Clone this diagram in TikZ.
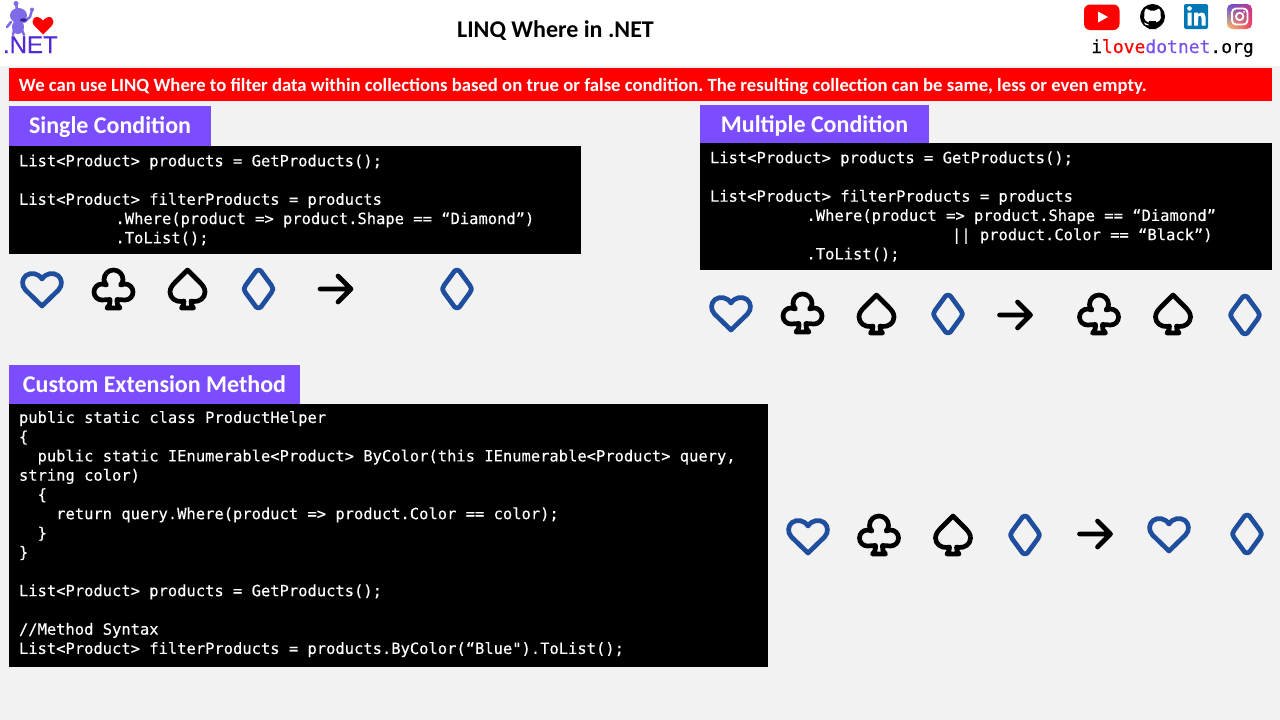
\documentclass[tikz,border=0pt]{standalone}
\usepackage{fontspec}
\usepackage{xcolor}
\usetikzlibrary{positioning,shadings}
\setmainfont{Carlito}
\newfontfamily\codefont[FakeBold=0.3]{DejaVu Sans Mono}
\newfontfamily\netfont[FakeBold=0.3]{Liberation Sans}
\definecolor{pagegray}{HTML}{F2F2F2}
\definecolor{headpurple}{HTML}{7C4DFF}
\definecolor{suitblue}{HTML}{1F4E9E}
\definecolor{netpurple}{HTML}{512BD4}
\definecolor{botpurple}{HTML}{7F6BE8}
\definecolor{sitepurple}{HTML}{7A4FF0}
\definecolor{linkblue}{HTML}{0077B5}
\definecolor{instaa}{HTML}{5B51D8}
\definecolor{instab}{HTML}{C1358F}
\definecolor{instac}{HTML}{FDC468}
\definecolor{instad}{HTML}{F0405C}
\tikzset{
  suitline/.style={line width=4.7pt,line join=round,line cap=round},
  pics/heartsuit/.style={code={
    \draw[suitline,suitblue] (0,17) -- (-16.5,1) .. controls (-21,-4) and (-20,-10) .. (-16,-13.5)
      .. controls (-11,-17) and (-4,-16) .. (0,-10) .. controls (4,-16) and (11,-17) .. (16,-13.5)
      .. controls (20,-10) and (21,-4) .. (16.5,1) -- cycle;}},
  pics/clubsuit/.style={code={
    \draw[suitline,black] (-6.5,19) -- (6.5,19) .. controls (4,17) and (3.5,15) .. (3.5,10.5) -- (11.5,11)
      .. controls (16,11) and (19.5,7.5) .. (19.5,3) .. controls (19.5,-1.5) and (16,-5) .. (11.5,-5) -- (7,-4)
      .. controls (8.5,-6) and (9.5,-7) .. (9.5,-9.5) .. controls (9.5,-15) and (5,-19) .. (0,-19)
      .. controls (-5,-19) and (-9.5,-15) .. (-9.5,-9.5) .. controls (-9.5,-7) and (-8.5,-6) .. (-7,-4) -- (-11.5,-5)
      .. controls (-16,-5) and (-19.5,-1.5) .. (-19.5,3) .. controls (-19.5,7.5) and (-16,11) .. (-11.5,11)
      -- (-3.5,10.5) .. controls (-3.5,15) and (-4,17) .. (-6.5,19) -- cycle;}},
  pics/spadesuit/.style={code={
    \draw[suitline,black] (-6,19) -- (6,19) .. controls (4,17) and (3.5,15) .. (3.5,12) -- (6,12.5)
      .. controls (12,13) and (17.5,9) .. (17.5,3) .. controls (17.5,-1) and (15,-4) .. (12,-7) -- (0,-19)
      -- (-12,-7) .. controls (-15,-4) and (-17.5,-1) .. (-17.5,3) .. controls (-17.5,9) and (-12,13) .. (-6,12.5)
      -- (-3.5,12) .. controls (-3.5,15) and (-4,17) .. (-6,19) -- cycle;}},
  pics/diamondsuit/.style={code={
    \draw[suitline,suitblue] (0,-19) .. controls (2,-19) and (3,-17.5) .. (3.5,-16.5) -- (13,-3.5)
      .. controls (15,-1) and (15,1) .. (13,3.5) -- (3.5,16.5) .. controls (3,17.5) and (2,19) .. (0,19)
      .. controls (-2,19) and (-3,17.5) .. (-3.5,16.5) -- (-13,3.5) .. controls (-15,1) and (-15,-1) .. (-13,-3.5)
      -- (-3.5,-16.5) .. controls (-3,-17.5) and (-2,-19) .. (0,-19) -- cycle;}},
  pics/thenarrow/.style={code={
    \draw[suitline,black] (-15.5,0) -- (15.5,0) (2.5,-13) -- (15.5,0) -- (2.5,13);}}
}
\begin{document}
\begin{tikzpicture}[x=1pt,y=-1pt,outer sep=0pt,
  headbox/.style={fill=headpurple,text=white,inner sep=0pt,text depth=0pt,font=\fontsize{24}{28}\selectfont\bfseries},
  codebox/.style={fill=black,text=white,inner xsep=10pt,inner ysep=0pt,align=flush left,
                  font=\codefont\fontsize{15.46}{19.25}\selectfont}]
\useasboundingbox (0,0) rectangle (1280,720);
\fill[pagegray] (0,0) rectangle (1280,720);
\fill[white] (0,0) rectangle (1280,66);

\node (title) at (555.5,29) [inner sep=0pt,text depth=0pt,font=\fontsize{24}{28}\selectfont\bfseries] {LINQ Where in .NET};
\node (banner) at (9,68) [anchor=north west,fill=red,text=white,inner xsep=10pt,inner ysep=0pt,minimum height=33pt,
  text width=1243pt,align=flush left,text depth=0pt,font=\frenchspacing\fontsize{18.7}{23}\selectfont\bfseries]
  {We can use LINQ Where to filter data within collections based on true or false condition. The resulting collection can be same, less or even empty.};

\node (single) at (9,106) [headbox,anchor=north west,minimum width=202pt,minimum height=40pt] {\raisebox{1pt}{Single Condition}};
\node (singlecode) [codebox,below=0pt of single.south west,anchor=north west,minimum height=108pt,text width=552pt]
  {List<Product> products = GetProducts();\\~\\
   List<Product> filterProducts = products\\
   \hspace*{96.5pt}.Where(product => product.Shape == “Diamond”)\\
   \hspace*{96.5pt}.ToList();};

\node (multi) at (700,105) [headbox,anchor=north west,minimum width=229pt,minimum height=38pt] {Multiple Condition};
\node (multicode) [codebox,below=0pt of multi.south west,anchor=north west,minimum height=127pt,text width=552pt]
  {List<Product> products = GetProducts();\\~\\
   List<Product> filterProducts = products\\
   \hspace*{96.5pt}.Where(product => product.Shape == “Diamond”\\
   \hspace*{242pt}|| product.Color == “Black”)\\
   \hspace*{96.5pt}.ToList();};

\node (custom) at (9,365) [headbox,anchor=north west,minimum width=291pt,minimum height=39pt] {Custom Extension Method};
\node (customcode) [codebox,below=0pt of custom.south west,anchor=north west,minimum height=263pt,text width=739pt]
  {public static class ProductHelper\\
   \{\\
   \hspace*{18.6pt}public static IEnumerable<Product> ByColor(this IEnumerable<Product> query,\\
   string color)\\
   \hspace*{18.6pt}\{\\
   \hspace*{37.2pt}return query.Where(product => product.Color == color);\\
   \hspace*{18.6pt}\}\\
   \}\\~\\
   List<Product> products = GetProducts();\\~\\
   //Method Syntax\\
   List<Product> filterProducts = products.ByColor(“Blue").ToList();\rule[-6pt]{0pt}{1pt}};

\pic at (42,289) {heartsuit};
\pic at (113.5,289) {clubsuit};
\pic at (187.5,289) {spadesuit};
\pic at (258.5,289) {diamondsuit};
\pic at (335.5,289) {thenarrow};
\pic at (457,289) {diamondsuit};

\pic at (731,313) {heartsuit};
\pic at (802.5,313) {clubsuit};
\pic at (876.5,314) {spadesuit};
\pic at (948,314) {diamondsuit};
\pic at (1015,315) {thenarrow};
\pic at (1099,314) {clubsuit};
\pic at (1173,314) {spadesuit};
\pic at (1245,315) {diamondsuit};

\pic at (808,536) {heartsuit};
\pic at (879,535) {clubsuit};
\pic at (953,535) {spadesuit};
\pic at (1025,535) {diamondsuit};
\pic at (1095,534) {thenarrow};
\pic at (1169,534) {heartsuit};
\pic at (1247,534) {diamondsuit};

\draw[botpurple,line width=2.5pt,line cap=round] (16,3) -- (17,10) (24,22) -- (30,17) -- (32,10) (11,22) -- (7,27)
  (14,30) -- (13,35) (22,30) -- (24,35);
\fill[botpurple] (18.5,15.5) ellipse (8.5pt and 7.5pt) (16,3.5) circle (2.5pt) (18,27) ellipse (6pt and 7pt) (32,9.5) circle (2pt);
\fill[netpurple!70!black] (23.5,20) ellipse (3.5pt and 1.7pt);
\fill[red] (43,34.5) -- (34.5,26) .. controls (29,20) and (36,12.5) .. (43,20.5) .. controls (50,12.5) and (57,20) .. (51.5,26) -- cycle;
\node (dotnet) at (3,53) [anchor=base west,inner sep=0pt,text=netpurple,font=\netfont\fontsize{24}{28}\selectfont] {.NET};

\fill[red,rounded corners=6pt] (1084,4.5) rectangle (1119.5,30);
\fill[white] (1098,11.5) -- (1108,17) -- (1098,22.5) -- cycle;

\fill[black] (1152.5,16.5) circle (12.5pt);
\fill[white] (1146,8.5) -- (1150,10.5) -- (1155,10.5) -- (1159,8.5) .. controls (1161,12) and (1161,13) .. (1160.5,14)
  .. controls (1162.5,20) and (1158,23) .. (1152.5,23) .. controls (1147,23) and (1142.5,20) .. (1144.5,14)
  .. controls (1144,13) and (1144,12) .. (1146,8.5) -- cycle;
\fill[black] (1149,21) -- (1156,21) -- (1156.5,29) -- (1148.5,29) -- cycle;
\fill[white] (1144,22.5) -- (1148.5,24.5) -- (1148.5,25.5) -- (1145,24.5) -- cycle;

\fill[linkblue,rounded corners=2pt] (1184,4) rectangle (1208,29);
\fill[white] (1187.5,12.5) rectangle (1191.5,25.5) (1189.5,8.5) circle (2.3pt);
\fill[white] (1194,12.5) -- (1198,12.5) -- (1198,14.5) .. controls (1200,11.5) and (1205.5,11.5) .. (1205.5,17)
  -- (1205.5,25.5) -- (1201.5,25.5) -- (1201.5,18) .. controls (1201.5,15) and (1198,15) .. (1198,18) -- (1198,25.5) -- (1194,25.5) -- cycle;

\shade[rounded corners=5pt,upper left=instaa,upper right=instab,lower left=instac,lower right=instad]
  (1227,4) rectangle (1252,29);
\draw[white,line width=1.8pt,rounded corners=4pt] (1232,8.5) rectangle (1247.5,24.5);
\draw[white,line width=1.8pt] (1239.7,16.5) circle (3.7pt);
\fill[white] (1244,11.8) circle (1pt);

\node (site) at (1172.5,53) [anchor=base,inner sep=0pt,font=\codefont\fontsize{18}{22}\selectfont]
  {i\textcolor{red}{love}\textcolor{sitepurple}{dotnet}.org};
\end{tikzpicture}
\end{document}
